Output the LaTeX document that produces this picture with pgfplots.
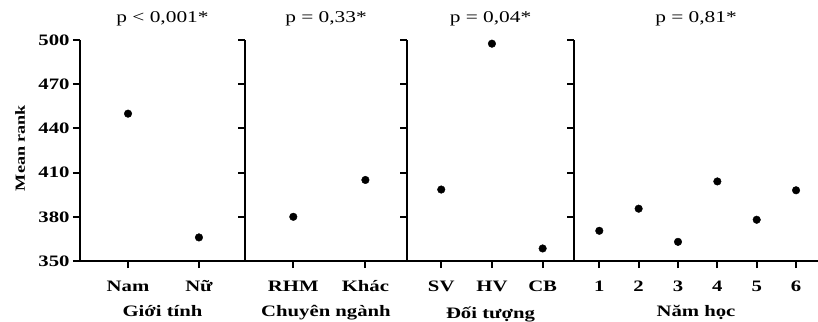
\documentclass[border=0pt]{standalone}
\usepackage{pgfplots}
\pgfplotsset{compat=1.18}
\usepackage{fontspec}
\setmainfont{Liberation Serif}[FakeStretch=1.3]
\begin{document}
\begin{tikzpicture}
\useasboundingbox (0,0) rectangle (818bp,322bp);
\pgfplotsset{
  panel/.style={
    scale only axis, height=221bp,
    ymin=350, ymax=500, ytick={350,380,...,500},
    axis x line=bottom, axis y line=left,
    axis line style={-, line width=2bp, black},
    tick align=outside, major tick length=7bp,
    major tick style={line width=2bp, black},
    tick label style={font=\fontsize{16}{18}\selectfont\bfseries},
    xticklabel style={anchor=base, yshift=-23bp},
    /pgf/number format/assume math mode=true,
    title style={at={(rel axis cs:0.5,1)}, anchor=base, yshift=12bp, font=\fontsize{16.5}{18}\selectfont},
    xlabel style={at={(rel axis cs:0.5,0)}, anchor=base, yshift=-55bp, font=\fontsize{16}{18}\selectfont\bfseries},
    xtick=data,
    clip=false,
  },
  dots/.style={only marks, mark=*, mark size=3.8bp, black},
}
\begin{axis}[panel, at={(80bp,61bp)}, anchor=south west, width=165bp,
  xmin=-0.677, xmax=1.649, xticklabels={Nam, Nữ},
  title={p < 0,001*}, xlabel={Giới tính}]
\addplot[dots] coordinates {(0,450) (1,366)};
\end{axis}
\begin{axis}[panel, at={(245bp,61bp)}, anchor=south west, width=162bp,
  xmin=-0.67, xmax=1.577, xticklabels={RHM, Khác}, yticklabels={},
  title={p = 0,33*}, xlabel={Chuyên ngành}]
\addplot[dots] coordinates {(0,380) (1,405)};
\end{axis}
\begin{axis}[panel, at={(407bp,61bp)}, anchor=south west, width=167bp,
  xmin=-0.675, xmax=2.618, xticklabels={SV, HV, CB}, yticklabels={},
  title={p = 0,04*}, xlabel={Đối tượng}, xlabel style={yshift=-2bp}]
\addplot[dots] coordinates {(0,398.5) (1,497.5) (2,358.5)};
\end{axis}
\begin{axis}[panel, at={(574bp,61bp)}, anchor=south west, width=244bp,
  xmin=0.357, xmax=6.558, xticklabels={1,2,3,4,5,6}, yticklabels={},
  title={p = 0,81*}, xlabel={Năm học}]
\addplot[dots] coordinates {(1,370.5) (2,385.5) (3,363) (4,404) (5,378) (6,398)};
\end{axis}
\node[rotate=90, font=\fontsize{14}{16}\selectfont\bfseries] at (20bp,174bp) {Mean rank};
\end{tikzpicture}
\end{document}
